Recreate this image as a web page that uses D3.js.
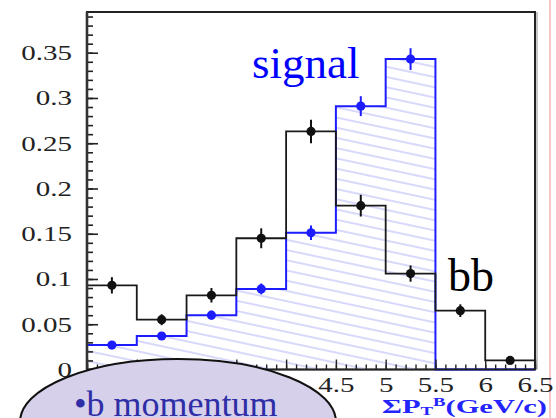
<!DOCTYPE html>
<html>
<head>
<meta charset="utf-8">
<script src="https://cdn.jsdelivr.net/npm/d3@7"></script>
<style>
  html, body { margin: 0; padding: 0; background: #fff; }
  svg { display: block; }
</style>
</head>
<body>
<svg id="chart" width="556" height="418"></svg>
<script>
// Lower edges of the 0.5 GeV/c wide bins in sum of B-candidate pT
const binStart = [2.0, 2.5, 3.0, 3.5, 4.0, 4.5, 5.0, 5.5, 6.0];
const binWidth = 0.5;

// bb background (black) and signal (blue), normalised fractions
const bbValues = [0.093, 0.055, 0.082, 0.145, 0.263, 0.181, 0.106, 0.065, 0.010];
const bbErrors = [0.009, 0.006, 0.008, 0.011, 0.013, 0.012, 0.009, 0.007, 0.003];
const signalValues = [0.027, 0.037, 0.060, 0.089, 0.151, 0.291, 0.343, 0.0, 0.0];
const signalErrors = [0.003, 0.004, 0.005, 0.006, 0.008, 0.011, 0.012, 0.0, 0.0];

// Axis ticks (the low x labels sit behind the callout bubble)
const yMajorTicks = [0, 0.05, 0.1, 0.15, 0.2, 0.25, 0.3, 0.35];
const yTickLabels = ["0", "0.05", "0.1", "0.15", "0.2", "0.25", "0.3", "0.35"];
const xMajorTicks = [2, 2.5, 3, 3.5, 4, 4.5, 5, 5.5, 6, 6.5];
const xLabelTicks = [4.5, 5, 5.5, 6, 6.5];
const xTickLabels = ["4.5", "5", "5.5", "6", "6.5"];

const svg = d3.select("#chart");
const frame = { left: 87, right: 535, top: 12, bottom: 369.5 };

const x = d3.scaleLinear().domain([2, 6.5]).range([frame.left, frame.right]);
const y = d3.scaleLinear().domain([0, 0.395]).range([frame.bottom, frame.top]);

// slide edge line on the right
svg.append("line")
  .attr("x1", 550).attr("x2", 550).attr("y1", 0).attr("y2", 418)
  .attr("stroke", "#f7c6c6").attr("stroke-width", 2);

// hatch pattern for the signal histogram
const defs = svg.append("defs");
const pat = defs.append("pattern")
  .attr("id", "hatch")
  .attr("patternUnits", "userSpaceOnUse")
  .attr("width", 10).attr("height", 10)
  .attr("patternTransform", "rotate(12)");
pat.append("line")
  .attr("x1", -1).attr("x2", 11).attr("y1", 5).attr("y2", 5)
  .attr("stroke", "#a9a9f6").attr("stroke-width", 0.9);

// soft shadow along the right frame edge
svg.append("line")
  .attr("x1", frame.right + 2).attr("x2", frame.right + 2)
  .attr("y1", frame.top).attr("y2", frame.bottom)
  .attr("stroke", "#c8c8c8").attr("stroke-width", 2);

// frame
svg.append("rect")
  .attr("x", frame.left).attr("y", frame.top)
  .attr("width", frame.right - frame.left).attr("height", frame.bottom - frame.top)
  .attr("fill", "#fff").attr("stroke", "#222").attr("stroke-width", 2);

// step outline of a histogram, from its bin values
function stepPoints(values) {
  const pts = [[binStart[0], 0]];
  values.forEach((v, i) => {
    pts.push([binStart[i], v]);
    pts.push([binStart[i] + binWidth, v]);
  });
  pts.push([binStart[binStart.length - 1] + binWidth, 0]);
  return pts;
}
const line = d3.line().x(d => x(d[0])).y(d => y(d[1]));

// signal: hatched fill + blue outline
svg.append("path")
  .attr("d", line(stepPoints(signalValues)) + "Z")
  .attr("fill", "url(#hatch)").attr("stroke", "none");
svg.append("path")
  .attr("d", line(stepPoints(signalValues)))
  .attr("fill", "none").attr("stroke", "#1c1cff").attr("stroke-width", 2);

// bb: black outline
svg.append("path")
  .attr("d", line(stepPoints(bbValues)))
  .attr("fill", "none").attr("stroke", "#1a1a1a").attr("stroke-width", 1.8);

// axes
const yMinor = d3.range(0, 0.391, 0.01);
svg.append("g")
  .attr("transform", `translate(${frame.left},0)`)
  .call(d3.axisLeft(y).tickValues(yMinor).tickSize(-6).tickFormat(""))
  .call(g => g.select(".domain").remove())
  .selectAll("line").attr("stroke", "#222").attr("stroke-width", 1.6);

const yAxis = svg.append("g")
  .attr("transform", `translate(${frame.left},0)`)
  .call(d3.axisLeft(y).tickValues(yMajorTicks).tickSize(-11).tickPadding(15)
    .tickFormat((d, i) => yTickLabels[i]));
yAxis.select(".domain").remove();
yAxis.selectAll("line").attr("stroke", "#222").attr("stroke-width", 1.6);
yAxis.selectAll("text")
  .attr("font-family", "'Liberation Serif', 'Times New Roman', serif")
  .attr("font-size", 21).attr("fill", "#222")
  .attr("x", -15 / 1.38).attr("dy", "0.33em")
  .attr("transform", "scale(1.38,1)");

const xMinor = d3.range(2, 6.51, 0.1);
svg.append("g")
  .attr("transform", `translate(0,${frame.bottom})`)
  .call(d3.axisBottom(x).tickValues(xMinor).tickSize(-5).tickFormat(""))
  .call(g => g.select(".domain").remove())
  .selectAll("line").attr("stroke", "#222").attr("stroke-width", 1.4);

const xAxisTicks = svg.append("g")
  .attr("transform", `translate(0,${frame.bottom})`)
  .call(d3.axisBottom(x).tickValues(xMajorTicks).tickSize(-10).tickFormat(""));
xAxisTicks.select(".domain").remove();
xAxisTicks.selectAll("line").attr("stroke", "#222").attr("stroke-width", 1.4);

const xAxis = svg.append("g")
  .attr("transform", `translate(0,${frame.bottom})`)
  .call(d3.axisBottom(x).tickValues(xLabelTicks).tickSize(0).tickPadding(7.5)
    .tickFormat((d, i) => xTickLabels[i]));
xAxis.select(".domain").remove();
xAxis.selectAll("text")
  .attr("font-family", "'Liberation Serif', 'Times New Roman', serif")
  .attr("font-size", 21).attr("fill", "#222")
  .attr("transform", "scale(1.38,1)");

// left axis line and bottom line drawn heavier
svg.append("line")
  .attr("x1", frame.left).attr("x2", frame.left)
  .attr("y1", frame.top).attr("y2", frame.bottom)
  .attr("stroke", "#333").attr("stroke-width", 2.6);
svg.append("line")
  .attr("x1", frame.left).attr("x2", frame.right)
  .attr("y1", frame.bottom).attr("y2", frame.bottom)
  .attr("stroke", "#222").attr("stroke-width", 1.6);

// points with error bars
function drawPoints(values, errors, color) {
  const g = svg.append("g");
  values.forEach((v, i) => {
    if (v <= 0) return;
    const cx = x(binStart[i] + binWidth / 2);
    g.append("line")
      .attr("x1", cx).attr("x2", cx)
      .attr("y1", y(v - errors[i])).attr("y2", y(v + errors[i]))
      .attr("stroke", color).attr("stroke-width", 2);
    g.append("circle")
      .attr("cx", cx).attr("cy", y(v)).attr("r", 4.6)
      .attr("fill", color);
  });
}
drawPoints(signalValues, signalErrors, "#1c1cff");
drawPoints(bbValues, bbErrors, "#111");

// labels in the plot
svg.append("text")
  .attr("x", 252).attr("y", 78)
  .attr("font-family", "'Liberation Serif', 'Times New Roman', serif")
  .attr("font-size", 45).attr("fill", "#0000ff")
  .text("signal");
svg.append("text")
  .attr("x", 448).attr("y", 291)
  .attr("font-family", "'Liberation Serif', 'Times New Roman', serif")
  .attr("font-size", 46).attr("fill", "#000")
  .text("bb");

// x-axis title
const xt = svg.append("text")
  .attr("x", 382).attr("y", 413)
  .attr("font-family", "'Liberation Serif', 'Times New Roman', serif")
  .attr("font-size", 19.5).attr("font-weight", "bold").attr("fill", "#2424ff")
  .attr("textLength", 165).attr("lengthAdjust", "spacingAndGlyphs");
xt.append("tspan").text("ΣP");
xt.append("tspan").attr("font-size", 12).attr("dy", 2).text("T");
xt.append("tspan").attr("font-size", 12).attr("dy", -9).text("B");
xt.append("tspan").attr("dy", 7).text("(GeV/c)");

// callout bubble
svg.append("ellipse")
  .attr("cx", 178).attr("cy", 422).attr("rx", 158).attr("ry", 63)
  .attr("fill", "#d6d0ea").attr("stroke", "#111").attr("stroke-width", 2);
svg.append("text")
  .attr("x", 74).attr("y", 416)
  .attr("font-family", "'Liberation Serif', 'Times New Roman', serif")
  .attr("font-size", 36).attr("fill", "#2e2ea6")
  .text("•b momentum");
</script>
</body>
</html>
